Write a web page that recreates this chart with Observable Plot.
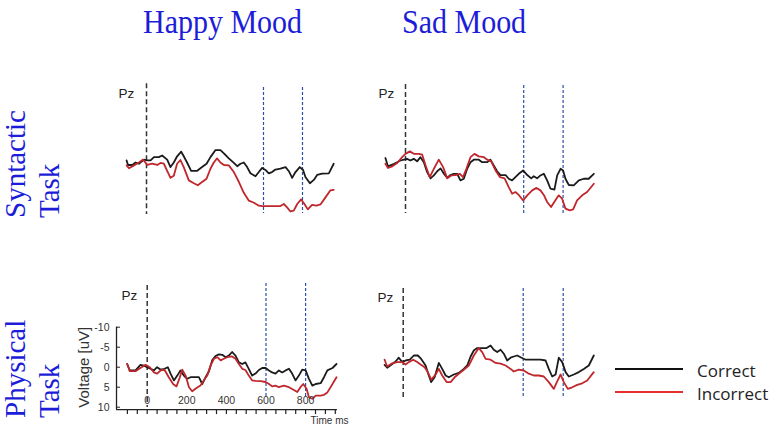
<!DOCTYPE html>
<html>
<head>
<meta charset="utf-8">
<script src="https://cdn.jsdelivr.net/npm/d3@7"></script>
<script src="https://cdn.jsdelivr.net/npm/@observablehq/plot@0.6"></script>
<style>
  body { margin: 0; background: #fff; }
  #wrap { position: relative; width: 777px; height: 427px; overflow: hidden; background: #fff; }
  #wrap svg { position: absolute; left: 0; top: 0; }
</style>
</head>
<body>
<div id="wrap"></div>
<script>
// ---------- labels ----------
const moods = ["Happy Mood", "Sad Mood"];
const taskLines = [["Syntactic", "Task"], ["Physical", "Task"]];
const series = ["Correct", "Incorrect"];
const seriesColors = ["#1b1b1b", "#c0272d"];
const legendColors = ["#111111", "#e2302c"];
const channel = ["Pz"];
const stimulusOnset = [0];
const windowBounds = [600, 800];
const yTicks = [-10, -5, 0, 5, 10];
const xTickLabels = [0, 200, 400, 600, 800];
const xMinorTicks = [-100, -50, 0, 50, 100, 150, 200, 250, 300, 350, 400, 450, 500, 550, 600, 650, 700, 750, 800, 850, 900, 950];
const yAxisLabel = ["Voltage [uV]"];
const xAxisLabel = ["Time ms"];

// ---------- data: [time ms, voltage uV] ----------
const happySyntacticCorrect = [[-102,-0.5],[-95,0.6],[-73,0.6],[-56,0],[-39,0.3],[-13,-0.7],[4,-0.5],[21,-0.5],[38,-1.3],[63,-1.3],[80,-1.7],[106,-0.7],[123,1.1],[140,0],[157,-1.5],[178,-2.6],[191,-1.5],[208,0],[229,2.0],[260,2.0],[285,1.1],[308,0.3],[328,-1.3],[354,-3.0],[379,-3.0],[397,-2.2],[422,-1.0],[448,0.1],[465,0.9],[482,0.3],[499,0],[516,1.1],[533,2.6],[559,3.3],[576,2.3],[593,1.3],[610,1.8],[627,2.6],[644,2.3],[661,1.7],[687,1.5],[713,1.1],[730,2.1],[747,3.7],[764,2.3],[786,1.1],[803,1.8],[815,3.5],[838,5.0],[858,4.2],[875,3.0],[901,2.7],[935,2.6],[960,0.3]];
const happySyntacticIncorrect = [[-102,0.7],[-90,1.4],[-64,0.7],[-39,0],[-17,-0.7],[4,0.6],[29,0.3],[55,0.6],[72,0.1],[89,0.3],[106,2.0],[123,3.7],[140,3.2],[157,0.3],[174,-0.6],[191,1.1],[217,4.3],[243,5.0],[263,5.5],[285,4.7],[308,3.9],[328,1.5],[345,0],[362,-1.0],[379,0],[397,0.6],[422,0.7],[448,2.3],[474,4.7],[499,7.3],[525,9.2],[551,9.7],[576,10.4],[593,10.5],[619,10.5],[653,10.5],[687,10.5],[704,10.0],[721,10.8],[738,11.8],[755,11.6],[773,10.0],[793,8.9],[810,10.0],[827,11.3],[849,10.2],[871,10.4],[892,10.1],[918,8.4],[943,6.7],[960,6.6]];
const sadSyntacticCorrect = [[-102,-0.6],[-89,1.4],[-58,0.8],[-25,0],[-8,-0.2],[8,-0.4],[25,0],[42,-0.4],[59,0.2],[76,-0.8],[93,0.4],[110,2.8],[127,4.3],[144,3.6],[161,2.6],[178,1.9],[195,3.2],[212,4.2],[228,3.5],[245,3.2],[262,3.2],[279,4.8],[296,4.4],[313,2.0],[330,0.4],[347,-0.2],[372,-0.2],[389,0.4],[415,0.4],[431,-0.2],[448,1.2],[465,2.6],[482,3.5],[508,3.5],[524,4.4],[541,4.8],[558,4.0],[575,3.2],[597,2.4],[618,3.5],[638,4.3],[651,3.8],[668,4.3],[685,3.6],[702,3.2],[719,4.8],[736,6.8],[756,7.0],[770,3.6],[787,2.0],[800,2.4],[812,4.4],[829,5.9],[854,6.0],[880,4.8],[905,4.4],[930,4.4],[956,3.2]];
const sadSyntacticIncorrect = [[-102,0.8],[-89,1.8],[-67,1.4],[-42,0.6],[-17,-0.8],[0,-1.6],[22,-2.2],[42,-1.6],[68,-1.6],[85,-1.4],[102,1.2],[123,4.0],[144,2.0],[169,-0.2],[191,1.6],[212,4.3],[232,3.6],[254,3.5],[276,3.2],[292,4.0],[309,2.0],[330,-0.8],[350,-1.6],[372,-1.0],[398,-0.8],[415,-0.2],[435,0.2],[457,2.4],[479,4.0],[503,4.3],[524,6.4],[541,8.0],[558,7.6],[575,8.3],[597,9.6],[618,8.4],[643,7.2],[665,6.6],[685,7.2],[702,8.3],[719,10.0],[739,11.2],[761,9.6],[778,8.4],[795,9.2],[812,11.6],[834,12.0],[851,11.8],[871,9.6],[897,8.4],[922,7.6],[956,5.6]];
const happyPhysicalCorrect = [[-101,-0.8],[-88,0.8],[-59,0.8],[-34,-0.6],[-17,-0.4],[8,0.2],[34,0.8],[50,0],[67,0.6],[88,0.4],[104,0],[118,1.6],[135,3.3],[152,2.1],[168,0.8],[185,2.1],[202,2.9],[219,2.5],[244,2.5],[261,2.5],[278,4.2],[295,2.5],[312,1.0],[328,-1.7],[345,-2.8],[362,-3.2],[379,-3.1],[396,-2.5],[412,-2.9],[429,-3.8],[446,-2.9],[463,-1.2],[480,-0.8],[496,-1.2],[513,0.4],[530,2.1],[547,1.6],[564,0.7],[581,0.2],[598,0.2],[615,0.8],[631,1.3],[648,1.6],[665,0.8],[682,1.3],[699,0.8],[716,0.4],[732,1.6],[749,3.3],[766,2.1],[783,0.6],[800,0.8],[817,2.9],[834,4.6],[851,4.2],[876,4.0],[893,2.5],[910,0.8],[936,0.2],[956,-0.8]];
const happyPhysicalIncorrect = [[-101,-0.8],[-88,1.0],[-59,1.0],[-34,0.2],[-8,-0.6],[13,0],[34,1.3],[50,1.6],[71,0.7],[88,0.7],[109,2.5],[131,4.2],[148,4.8],[165,2.5],[177,0.6],[194,2.1],[211,5.0],[227,6.0],[249,5.2],[269,4.6],[286,3.3],[303,2.1],[320,-0.4],[337,-2.1],[354,-2.5],[371,-1.7],[387,-2.1],[404,-2.5],[429,-2.7],[446,-2.1],[463,-0.8],[480,0.4],[496,0.7],[513,2.1],[530,3.3],[547,3.4],[572,3.5],[598,3.7],[615,4.2],[631,4.8],[648,4.6],[665,5.0],[690,4.6],[716,5.0],[741,5.7],[758,6.2],[774,5.0],[788,4.2],[805,5.4],[817,7.5],[834,7.9],[851,7.1],[876,7.1],[893,6.9],[910,6.3],[926,5.0],[956,2.5]];
const sadPhysicalCorrect = [[-93,0.6],[-80,1.3],[-63,0.7],[-38,-0.25],[-22,-1.2],[-5,-0.1],[12,-0.5],[33,-0.7],[53,-1.75],[73,-1.75],[90,-0.9],[112,0.75],[128,3.25],[140,4.9],[157,3.7],[178,0.1],[195,1.6],[212,3.25],[228,3.7],[253,3.0],[278,2.6],[303,1.6],[320,0.75],[337,-1.5],[353,-3.0],[370,-3.6],[395,-3.6],[417,-3.6],[437,-4.25],[453,-3.2],[470,-2.6],[487,-3.2],[503,-2.2],[520,-0.5],[537,-1.2],[553,-1.5],[570,-1.75],[587,-1.3],[612,-0.7],[637,-0.7],[662,-0.7],[687,-0.7],[712,-0.5],[728,1.6],[745,3.5],[762,3.0],[778,-1.2],[795,-0.1],[812,2.4],[828,3.5],[853,3.0],[878,2.4],[903,1.6],[928,0.75],[953,-1.75]];
const sadPhysicalIncorrect = [[-93,-0.7],[-80,1.0],[-55,0.2],[-30,-0.1],[-5,-0.1],[12,0.5],[28,-0.1],[50,-0.7],[70,-0.1],[87,0.5],[107,1.2],[123,2.4],[140,4.3],[162,3.0],[178,1.6],[195,3.25],[217,4.9],[237,4.9],[257,3.7],[278,2.8],[303,1.8],[328,0.75],[353,-1.75],[378,-3.6],[395,-2.6],[412,-0.9],[437,-0.7],[462,0.1],[487,0.3],[512,0.75],[537,1.6],[553,2.25],[578,1.8],[603,2.0],[628,2.8],[653,3.25],[678,3.25],[703,3.5],[728,4.9],[753,6.6],[770,4.7],[787,3.0],[803,4.9],[823,6.6],[845,6.2],[870,5.6],[895,5.2],[920,4.5],[953,2.4]];

// ---------- panel layout ----------
const panels = [
  {correct: happySyntacticCorrect, incorrect: happySyntacticIncorrect,
   x0: 146, pxMs: 0.195, y0: 162, pxUv: 4.15, onsetSpan: [-19, 12.5], windowSpan: [-18.1, 12.3], pz: [-144, -16.6]},
  {correct: sadSyntacticCorrect, incorrect: sadSyntacticIncorrect,
   x0: 405, pxMs: 0.197, y0: 160, pxUv: 4.15, onsetSpan: [-18.3, 12.8], windowSpan: [-18.1, 12.8], pz: [-137, -16.1]},
  {correct: happyPhysicalCorrect, incorrect: happyPhysicalIncorrect,
   x0: 146.7, pxMs: 0.198, y0: 366.7, pxUv: 4.0, onsetSpan: [-20.4, 10.1], windowSpan: [-20.9, 7.6], pz: [-130, -17.9],
   axes: {left: -155, right: 961, top: -10, bottom: 10.6, vLabel: [-317, 0], tLabel: [825, 13.3]}},
  {correct: sadPhysicalCorrect, incorrect: sadPhysicalIncorrect,
   x0: 402.7, pxMs: 0.2, y0: 362, pxUv: 4.0, onsetSpan: [-18.5, 8.75], windowSpan: [-18.5, 8.75], pz: [-128, -16.25]}
];

const sans = "'Liberation Sans', Arial, sans-serif";

function axisMarks(p) {
  const a = p.axes;
  return [
    Plot.ruleX([a.left], {x: d => d, y1: a.top, y2: a.bottom, stroke: "#222", strokeWidth: 1.3}),
    Plot.ruleY([a.bottom], {y: d => d, x1: a.left, x2: a.right, stroke: "#222", strokeWidth: 1.3}),
    Plot.ruleX(xMinorTicks, {x: d => d, y1: a.bottom, y2: a.bottom + 5 / p.pxUv, stroke: "#222", strokeWidth: 1.2}),
    Plot.ruleY(yTicks, {y: d => d, x1: a.left, x2: a.left + 4 / p.pxMs, stroke: "#222", strokeWidth: 1}),
    Plot.text(yTicks, {x: a.left, y: d => d, text: d => String(d), textAnchor: "end", dx: -7,
      fontSize: 10.5, fontFamily: sans, fill: "#333"}),
    Plot.text(xTickLabels, {x: d => d, y: a.bottom, dy: -9, text: d => String(d),
      fontSize: 10.5, fontFamily: "'Liberation Sans Narrow', " + sans, fill: "#333"}),
    Plot.text(yAxisLabel, {x: a.vLabel[0], y: a.vLabel[1], text: d => d, rotate: -90,
      fontSize: 15, fontFamily: sans, fill: "#333"}),
    Plot.text(xAxisLabel, {x: a.tLabel[0], y: a.tLabel[1], text: d => d, textAnchor: "start",
      fontSize: 10, fontFamily: sans, fill: "#333"})
  ];
}

function panel(p) {
  const marks = [
    Plot.ruleX(stimulusOnset, {x: d => d, y1: p.onsetSpan[0], y2: p.onsetSpan[1],
      stroke: "#333", strokeWidth: 1.5, strokeDasharray: "5,3"}),
    Plot.ruleX(windowBounds, {x: d => d, y1: p.windowSpan[0], y2: p.windowSpan[1],
      stroke: "#2d4fa6", strokeWidth: 1.2, strokeDasharray: "3,2"}),
    Plot.line(p.correct, {x: d => d[0], y: d => d[1], stroke: seriesColors[0], strokeWidth: 1.8}),
    Plot.line(p.incorrect, {x: d => d[0], y: d => d[1], stroke: seriesColors[1], strokeWidth: 1.8}),
    Plot.text(channel, {x: p.pz[0], y: p.pz[1], text: d => d, textAnchor: "start",
      fontSize: 13.5, fontFamily: sans, fill: "#222"})
  ];
  if (p.axes) marks.push(...axisMarks(p));
  return Plot.plot({
    width: 777, height: 427, margin: 0,
    style: {background: "transparent", overflow: "visible"},
    x: {type: "linear", domain: [-100, 950], range: [p.x0 - 100 * p.pxMs, p.x0 + 950 * p.pxMs], axis: null},
    y: {type: "linear", domain: [-10, 10], range: [p.y0 - 10 * p.pxUv, p.y0 + 10 * p.pxUv], axis: null},
    marks
  });
}

const wrap = document.getElementById("wrap");
for (const p of panels) wrap.appendChild(panel(p));

// ---------- titles, row labels, legend ----------
const NS = "http://www.w3.org/2000/svg";
const ann = d3.select(wrap).append("svg").attr("xmlns", NS)
  .attr("width", 777).attr("height", 427).style("overflow", "visible");
const serif = "'Liberation Serif', 'Times New Roman', serif";
const blue = "#1c1cd9";
const titleX = [143, 402];
moods.forEach((m, i) => {
  ann.append("text").attr("transform", `translate(${titleX[i]},33) scale(1,1.15)`)
    .attr("font-family", serif).attr("font-size", 30).attr("fill", blue).text(m);
});
const rowBase = [218, 418];
taskLines.forEach((lines, r) => {
  lines.forEach((ln, j) => {
    ann.append("text").attr("transform", `translate(${25 + 34 * j},${rowBase[r]}) rotate(-90)`)
      .attr("font-family", serif).attr("font-size", 29).attr("fill", blue).text(ln);
  });
});
const legendY = [369, 392];
series.forEach((s, i) => {
  ann.append("line").attr("x1", 615).attr("x2", 683).attr("y1", legendY[i]).attr("y2", legendY[i])
    .attr("stroke", legendColors[i]).attr("stroke-width", 1.8);
  ann.append("text").attr("x", 697).attr("y", legendY[i] + 3).attr("dominant-baseline", "middle")
    .attr("font-family", "'Open Sans', sans-serif").attr("font-size", 17).attr("fill", "#222").text(s);
});
</script>
</body>
</html>
